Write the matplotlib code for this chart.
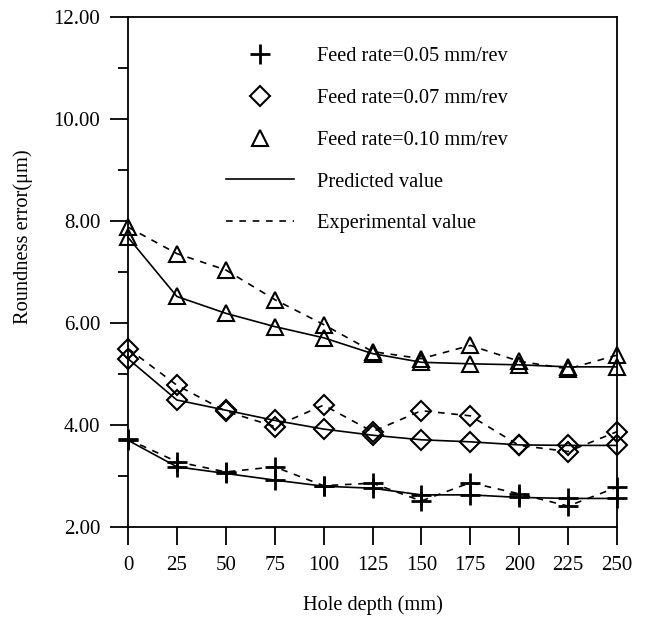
import numpy as np
import matplotlib
matplotlib.use('Agg')
import matplotlib.pyplot as plt
from matplotlib.lines import Line2D
from matplotlib.ticker import MultipleLocator, FormatStrFormatter

plt.rcParams['font.family'] = ['Liberation Serif', 'DejaVu Serif']

# --- Data ---
depth = [0, 25, 50, 75, 100, 125, 150, 175, 200, 225, 250]

# Feed rate = 0.05 mm/rev (crosses)
pred_005 = [3.70, 3.18, 3.05, 2.92, 2.80, 2.76, 2.63, 2.63, 2.58, 2.56, 2.56]
exp_005 = [3.72, 3.28, 3.08, 3.18, 2.81, 2.86, 2.51, 2.87, 2.65, 2.41, 2.78]

# Feed rate = 0.07 mm/rev (diamonds)
pred_007 = [5.30, 4.49, 4.29, 4.09, 3.92, 3.80, 3.71, 3.67, 3.61, 3.60, 3.60]
exp_007 = [5.50, 4.78, 4.27, 3.97, 4.39, 3.87, 4.28, 4.18, 3.60, 3.48, 3.87]

# Feed rate = 0.10 mm/rev (triangles)
pred_010 = [7.68, 6.52, 6.19, 5.93, 5.71, 5.40, 5.23, 5.20, 5.18, 5.14, 5.14]
exp_010 = [7.88, 7.36, 7.04, 6.46, 5.97, 5.44, 5.30, 5.56, 5.25, 5.10, 5.37]

labels = ['Feed rate=0.05 mm/rev', 'Feed rate=0.07 mm/rev', 'Feed rate=0.10 mm/rev',
          'Predicted value', 'Experimental value']

fig = plt.figure(figsize=(6.65, 6.18), dpi=100)
ax = fig.add_axes([128 / 665, 91 / 618, 489 / 665, 510 / 618])

dash = (4, 4)
series = [
    (pred_005, exp_005, '+', 14, 2.0),
    (pred_007, exp_007, 'D', 10, 1.5),
    (pred_010, exp_010, '^', 12, 1.5),
]
for pred, exp, mk, ms, mew in series:
    ax.plot(depth, pred, color='black', lw=1.2, marker=mk, ms=ms, mew=mew,
            mfc='none', mec='black', clip_on=False)
    ax.plot(depth, exp, color='black', lw=1.2, ls='--', dashes=dash, marker=mk,
            ms=ms, mew=mew, mfc='none', mec='black', clip_on=False)

ax.set_xlim(0, 250)
ax.set_ylim(2, 12)
ax.set_xticks(depth)
ax.yaxis.set_major_locator(MultipleLocator(2))
ax.yaxis.set_minor_locator(MultipleLocator(1))
ax.yaxis.set_major_formatter(FormatStrFormatter('%.2f'))
ax.tick_params(axis='both', which='major', direction='out', length=13, width=1.3,
               labelsize=15)
ax.tick_params(axis='x', which='major', pad=8)
ax.tick_params(axis='y', which='major', pad=7)
ax.tick_params(axis='y', which='minor', direction='out', length=7, width=1.3)
for sp in ax.spines.values():
    sp.set_linewidth(1.3)

ax.set_xlabel('Hole depth (mm)', fontsize=14.7)
ax.set_ylabel('Roundness error(\u03bcm)', fontsize=14.7)
ax.xaxis.set_label_coords(0.5, -0.133)
ax.yaxis.set_label_coords(-0.194, 0.569)

handles = [
    Line2D([], [], ls='none', marker='+', ms=14, mew=2, color='black'),
    Line2D([], [], ls='none', marker='D', ms=10, mew=1.5, mfc='none', color='black'),
    Line2D([], [], ls='none', marker='^', ms=12, mew=1.5, mfc='none', color='black'),
    Line2D([], [], lw=1.2, color='black'),
    Line2D([], [], lw=1.2, ls='--', dashes=dash, color='black'),
]
ax.legend(handles, labels, loc='upper left', bbox_to_anchor=(226 / 665, 1 - 47 / 618),
          bbox_transform=fig.transFigure, frameon=False, fontsize=14.7,
          handlelength=3.35, handletextpad=1.1, labelspacing=1.1, borderpad=0,
          borderaxespad=0)

fig.savefig('out.png', dpi=100)
